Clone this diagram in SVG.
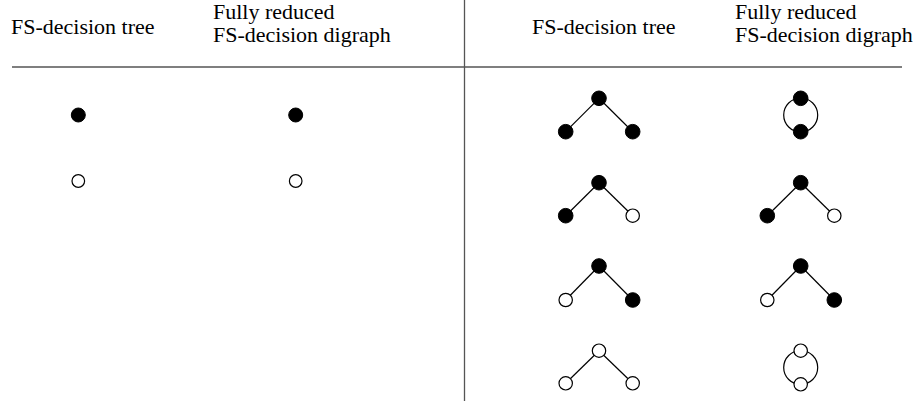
<svg xmlns="http://www.w3.org/2000/svg" width="919" height="402" viewBox="0 0 919 402">
<style>
text{font-family:"Liberation Serif","Times New Roman",serif;font-size:22px;fill:#000}
.rule{stroke:#555;stroke-width:1.3;fill:none}
.edge{stroke:#000;stroke-width:1.2;fill:none}
.f{fill:#000;stroke:#000;stroke-width:1}
.o{fill:#fff;stroke:#000;stroke-width:1.2}
</style>
<rect width="919" height="402" fill="#fff"/>
<g id="header">
<text x="11" y="33.5">FS-decision tree</text>
<text x="213" y="18.5">Fully reduced</text>
<text x="213" y="41.5">FS-decision digraph</text>
<text x="532" y="33.5">FS-decision tree</text>
<text x="735" y="18.5">Fully reduced</text>
<text x="735" y="41.5">FS-decision digraph</text>
</g>
<g id="rules">
<line class="rule" x1="12" y1="67" x2="902" y2="67"/>
<line class="rule" x1="464.5" y1="0" x2="464.5" y2="401"/>
</g>
<g id="connectors">
<line class="edge" x1="599" y1="98.3" x2="565.7" y2="131.7"/>
<line class="edge" x1="599" y1="98.3" x2="632.7" y2="131.7"/>
<circle class="edge" cx="800.7" cy="115" r="17"/>
<line class="edge" x1="599" y1="182.7" x2="565.7" y2="215.7"/>
<line class="edge" x1="599" y1="182.7" x2="632.7" y2="215.7"/>
<line class="edge" x1="800.7" y1="182.7" x2="767.3" y2="215.7"/>
<line class="edge" x1="800.7" y1="182.7" x2="834.3" y2="215.7"/>
<line class="edge" x1="599" y1="266" x2="565.7" y2="300"/>
<line class="edge" x1="599" y1="266" x2="632.7" y2="300"/>
<line class="edge" x1="800.7" y1="266" x2="767.3" y2="300"/>
<line class="edge" x1="800.7" y1="266" x2="834.3" y2="300"/>
<line class="edge" x1="599" y1="350.7" x2="565.7" y2="383.3"/>
<line class="edge" x1="599" y1="350.7" x2="632.7" y2="383.3"/>
<circle class="edge" cx="800.7" cy="367.5" r="17"/>
</g>
<g id="n-left-1"><circle class="f" cx="78.3" cy="115" r="7"/></g>
<g id="n-left-2"><circle class="o" cx="78.3" cy="181" r="6.3"/></g>
<g id="n-left-3"><circle class="f" cx="295.7" cy="115" r="7"/></g>
<g id="n-left-4"><circle class="o" cx="295.7" cy="181" r="6.3"/></g>
<g id="t1-top"><circle class="f" cx="599" cy="98.3" r="7.3"/></g>
<g id="t1-l"><circle class="f" cx="565.7" cy="131.7" r="7.3"/></g>
<g id="t1-r"><circle class="f" cx="632.7" cy="131.7" r="7.3"/></g>
<g id="d1-top"><circle class="f" cx="800.7" cy="98.3" r="7.3"/></g>
<g id="d1-bot"><circle class="f" cx="800.7" cy="131.7" r="7.3"/></g>
<g id="t2-top"><circle class="f" cx="599" cy="182.7" r="7.3"/></g>
<g id="t2-l"><circle class="f" cx="565.7" cy="215.7" r="7.3"/></g>
<g id="t2-r"><circle class="o" cx="632.7" cy="215.7" r="6.7"/></g>
<g id="d2-top"><circle class="f" cx="800.7" cy="182.7" r="7.3"/></g>
<g id="d2-l"><circle class="f" cx="767.3" cy="215.7" r="7.3"/></g>
<g id="d2-r"><circle class="o" cx="834.3" cy="215.7" r="6.7"/></g>
<g id="t3-top"><circle class="f" cx="599" cy="266" r="7.3"/></g>
<g id="t3-l"><circle class="o" cx="565.7" cy="300" r="6.7"/></g>
<g id="t3-r"><circle class="f" cx="632.7" cy="300" r="7.3"/></g>
<g id="d3-top"><circle class="f" cx="800.7" cy="266" r="7.3"/></g>
<g id="d3-l"><circle class="o" cx="767.3" cy="300" r="6.7"/></g>
<g id="d3-r"><circle class="f" cx="834.3" cy="300" r="7.3"/></g>
<g id="t4-top"><circle class="o" cx="599" cy="350.7" r="6.7"/></g>
<g id="t4-l"><circle class="o" cx="565.7" cy="383.3" r="6.7"/></g>
<g id="t4-r"><circle class="o" cx="632.7" cy="383.3" r="6.7"/></g>
<g id="d4-top"><circle class="o" cx="800.7" cy="350.7" r="6.7"/></g>
<g id="d4-bot"><circle class="o" cx="800.7" cy="384.3" r="6.7"/></g>
</svg>
